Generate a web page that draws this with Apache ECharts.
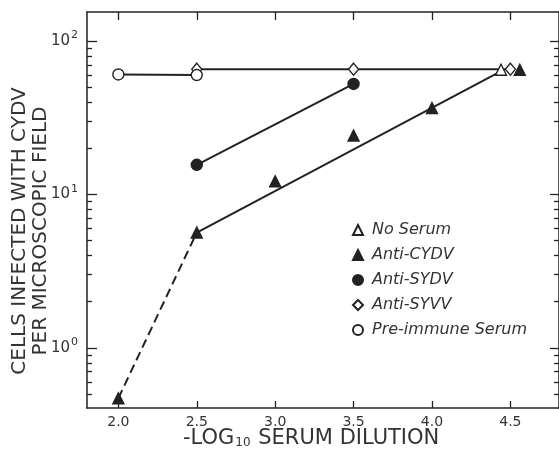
<!DOCTYPE html>
<html>
<head>
<meta charset="utf-8">
<script src="https://cdn.jsdelivr.net/npm/echarts@6/dist/echarts.min.js"></script>
<style>
html,body{margin:0;padding:0;background:#fff;}
#c{width:559px;height:454px;}
</style>
</head>
<body>
<div id="c"></div>
<script>
// ---- data (x = -log10 serum dilution, y = cells infected per field) ----
var noSerumX = [4.44];
var noSerumY = [65];
var antiCYDVX = [2.0, 2.5, 3.0, 3.5, 4.0, 4.56];
var antiCYDVY = [0.47, 5.65, 12.2, 24.2, 36.6, 65];
var antiSYDVX = [2.5, 3.5];
var antiSYDVY = [15.6, 52.5];
var antiSYVVX = [2.5, 3.5, 4.5];
var antiSYVVY = [65.5, 65.5, 65.5];
var preImmuneX = [2.0, 2.5];
var preImmuneY = [60.5, 60];
// fitted lines drawn in the figure
var cydvFitX = [2.5, 4.42];
var cydvFitY = [5.65, 62];
var cydvDashX = [2.0, 2.5];
var cydvDashY = [0.47, 5.65];
var sydvFitX = [2.5, 3.5];
var sydvFitY = [15.6, 52.5];
var syvvFitX = [2.5, 4.5];
var syvvFitY = [65.5, 65.5];
var preFitX = [2.0, 2.5];
var preFitY = [60.5, 60];
// ticks
var xTicks = [2.0, 2.5, 3.0, 3.5, 4.0, 4.5];
var yMajor = [1, 10, 100];
var yMinor = [0.5, 0.6, 0.7, 0.8, 0.9, 2, 3, 4, 5, 6, 7, 8, 9, 20, 30, 40, 50, 60, 70, 80, 90];
var legendNames = ['No Serum', 'Anti-CYDV', 'Anti-SYDV', 'Anti-SYVV', 'Pre-immune Serum'];

function zip(xs, ys) { return xs.map(function (x, i) { return [x, ys[i]]; }); }

var INK = '#222';
var TXT = '#333';
var X_MIN = 1.8, X_MAX = 4.81, Y_MIN = 0.406, Y_MAX = 154.5;

var chart = echarts.init(document.getElementById('c'), null, {renderer: 'canvas'});

function yAxisDef(pos, values, len, showLabel, showLine) {
  return {
    type: 'log', logBase: 10, position: pos, min: Y_MIN, max: Y_MAX,
    axisLine: {show: showLine, onZero: false, lineStyle: {color: INK, width: 1.5}},
    axisTick: {show: true, inside: true, length: len, customValues: values, lineStyle: {color: INK, width: 1.3}},
    axisLabel: {
      show: showLabel, customValues: yMajor, margin: 9, color: TXT,
      fontFamily: 'DejaVu Sans',
      formatter: function (v) { return '{b|10}{s|' + Math.round(Math.log10(v)) + '}'; },
      rich: {
        b: {fontSize: 15, color: TXT, fontFamily: 'DejaVu Sans'},
        s: {fontSize: 11, color: TXT, fontFamily: 'DejaVu Sans', padding: [0, 0, 11, 1]}
      }
    },
    splitLine: {show: false}, minorTick: {show: false}
  };
}

function xAxisDef(pos, len, showLabel) {
  return {
    type: 'value', position: pos, min: X_MIN, max: X_MAX,
    axisLine: {show: true, onZero: false, lineStyle: {color: INK, width: 1.5}},
    axisTick: {show: true, inside: true, length: len, customValues: xTicks, lineStyle: {color: INK, width: 1.3}},
    axisLabel: {
      show: showLabel, customValues: xTicks, margin: 7, color: TXT,
      fontSize: 14, fontFamily: 'DejaVu Sans',
      formatter: function (v) { return v.toFixed(1); }
    },
    splitLine: {show: false}
  };
}

function lineSeries(xs, ys, dashed) {
  return {
    type: 'line', data: zip(xs, ys), symbol: 'none', silent: true, z: 2,
    lineStyle: {color: INK, width: 2, type: dashed ? [9, 5] : 'solid'}
  };
}

function scatter(name, xs, ys, symbol, size, filled) {
  return {
    name: name, type: 'scatter', data: zip(xs, ys), symbol: symbol, symbolSize: size, z: 5,
    itemStyle: {color: filled ? INK : '#fff', borderColor: INK, borderWidth: 1.4, opacity: 1}
  };
}

chart.setOption({
  animation: false,
  backgroundColor: '#fff',
  grid: {left: 87, top: 12, width: 473, height: 396, containLabel: false},
  xAxis: [xAxisDef('bottom', 7, true), xAxisDef('top', 8, false)],
  yAxis: [
    yAxisDef('left', yMajor, 10, true, true),
    yAxisDef('left', yMinor, 5, false, false),
    yAxisDef('right', yMajor, 9, false, true),
    yAxisDef('right', yMinor, 5, false, false)
  ],
  legend: {
    data: legendNames, orient: 'vertical', left: 352, top: 222, padding: 0,
    itemWidth: 10, itemHeight: 10, itemGap: 9, selectedMode: false,
    textStyle: {fontSize: 16, fontStyle: 'italic', color: TXT, fontFamily: 'DejaVu Sans', padding: [0, 0, 0, 4]}
  },
  graphic: [
    {type: 'text', left: 183, top: 428, style: {
      text: '{t|-LOG}{u|10}{t| SERUM DILUTION}',
      rich: {
        t: {fontSize: 21, fontFamily: 'DejaVu Sans', fill: TXT},
        u: {fontSize: 12, fontFamily: 'DejaVu Sans', fill: TXT, padding: [8, 1, 0, 1]}
      }
    }},
    {type: 'text', x: 20, y: 231, rotation: Math.PI / 2, style: {
      text: 'CELLS INFECTED WITH CYDV', fontSize: 20, fontFamily: 'DejaVu Sans', fill: TXT,
      align: 'center', verticalAlign: 'middle'
    }},
    {type: 'text', x: 41, y: 231, rotation: Math.PI / 2, style: {
      text: 'PER MICROSCOPIC FIELD', fontSize: 20, fontFamily: 'DejaVu Sans', fill: TXT,
      align: 'center', verticalAlign: 'middle'
    }}
  ],
  series: [
    lineSeries(preFitX, preFitY, false),
    lineSeries(syvvFitX, syvvFitY, false),
    lineSeries(sydvFitX, sydvFitY, false),
    lineSeries(cydvFitX, cydvFitY, false),
    lineSeries(cydvDashX, cydvDashY, true),
    scatter('No Serum', noSerumX, noSerumY, 'triangle', 11, false),
    scatter('Anti-CYDV', antiCYDVX, antiCYDVY, 'triangle', 11, true),
    scatter('Anti-SYDV', antiSYDVX, antiSYDVY, 'circle', 11, true),
    scatter('Anti-SYVV', antiSYVVX, antiSYVVY, 'diamond', [10, 12], false),
    scatter('Pre-immune Serum', preImmuneX, preImmuneY, 'circle', 11, false)
  ]
});
</script>
</body>
</html>
